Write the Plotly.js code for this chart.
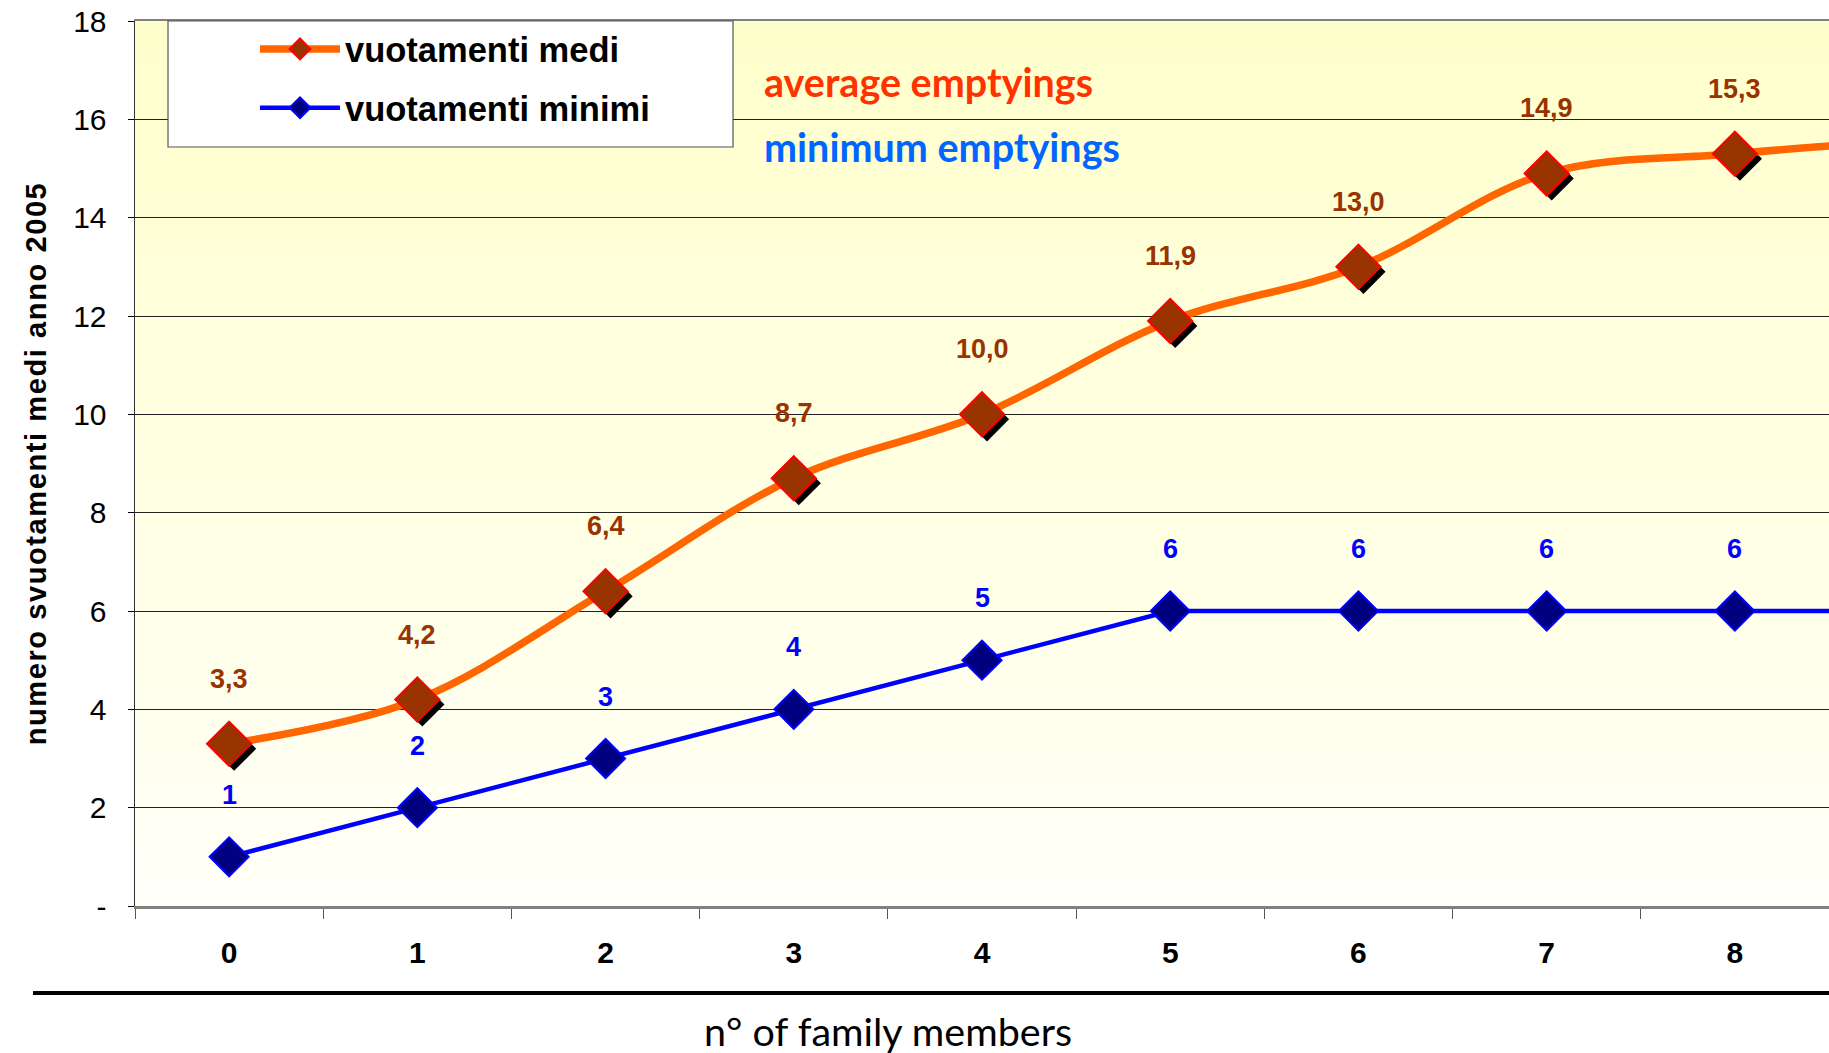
<!DOCTYPE html>
<html><head><meta charset="utf-8">
<script src="https://cdn.plot.ly/plotly-3.0.1.min.js"></script>
<style>
html,body{margin:0;padding:0;background:#fff;}
#chart{width:1829px;height:1053px;}
.ytitle{letter-spacing:1.6px;}
</style></head><body><div id="chart"></div>
<script>
// ---- data ----
const categories = ['0','1','2','3','4','5','6','7','8','9'];
const averageEmptyings = [3.3, 4.2, 6.4, 8.7, 10.0, 11.9, 13.0, 14.9, 15.3, 15.6];
const minimumEmptyings = [1, 2, 3, 4, 5, 6, 6, 6, 6, 6];
const averageLabels = ['3,3','4,2','6,4','8,7','10,0','11,9','13,0','14,9','15,3','15,6'];
const minimumLabels = ['1','2','3','4','5','6','6','6','6','6'];
const yTickVals = [0, 2, 4, 6, 8, 10, 12, 14, 16, 18];
const yTickText = ['-', '2', '4', '6', '8', '10', '12', '14', '16', '18'];
const seriesNames = ['vuotamenti medi', 'vuotamenti minimi'];
const notes = ['average emptyings', 'minimum emptyings'];
const xTitle = 'n° of family members';
const yTitle = 'numero svuotamenti medi anno 2005';

// ---- geometry / style ----
const W = 1829, H = 1053;
const M = {l: 135, r: 0, t: 21, b: 147};
const plotW = W - M.l - M.r, plotH = H - M.t - M.b;
const xRange = [-0.5, 8.5], yRange = [0, 18];
const pxX = plotW / (xRange[1] - xRange[0]);
const pxY = plotH / (yRange[1] - yRange[0]);
const shadow = 5; // px offset of marker shadow
const px2paperX = p => (p - M.l) / plotW;
const px2paperY = p => (H - M.b - p) / plotH;

const arial = 'Liberation Sans, Arial, sans-serif';
const gill = 'Lato, "Open Sans", sans-serif';

const traces = [
  { // minimum emptyings
    x: categories, y: minimumEmptyings, xaxis: 'x', yaxis: 'y',
    type: 'scatter', mode: 'lines+markers', name: seriesNames[1],
    legendrank: 2, legendgroup: 'b',
    line: {color: '#0000FF', width: 4.5},
    marker: {symbol: 'diamond', size: 30, color: '#000080', line: {color: '#0000FF', width: 2}},
    hoverinfo: 'skip'
  },
  { // shadow of average markers
    x: categories, y: averageEmptyings, xaxis: 'x2', yaxis: 'y2',
    type: 'scatter', mode: 'markers', showlegend: false,
    marker: {symbol: 'diamond', size: 34, color: '#000000', line: {width: 0}},
    hoverinfo: 'skip'
  },
  { // average emptyings
    x: categories, y: averageEmptyings, xaxis: 'x3', yaxis: 'y3',
    type: 'scatter', mode: 'lines+markers', name: seriesNames[0],
    legendrank: 1, legendgroup: 'a',
    line: {color: '#FF6600', width: 7.5, shape: 'spline', smoothing: 1},
    marker: {symbol: 'diamond', size: 34, color: '#993300', line: {color: '#FF0000', width: 2}},
    hoverinfo: 'skip'
  }
];

const annotations = [];
const lastVisible = Math.floor(xRange[1]);
categories.forEach((c, i) => {
  if (i > lastVisible) return;
  annotations.push({x: c, y: averageEmptyings[i], xref: 'x', yref: 'y', text: averageLabels[i],
    showarrow: false, yshift: 65,
    font: {family: arial, size: 27, weight: 700, color: '#993300'}});
  annotations.push({x: c, y: minimumEmptyings[i], xref: 'x', yref: 'y', text: minimumLabels[i],
    showarrow: false, yshift: 62,
    font: {family: arial, size: 27, weight: 700, color: '#0000FF'}});
});
annotations.push({xref: 'paper', yref: 'paper', x: px2paperX(762), y: px2paperY(81),
  xanchor: 'left', yanchor: 'middle', text: notes[0], showarrow: false,
  font: {family: gill, size: 39.5, weight: 700, color: '#FF3300'}});
annotations.push({xref: 'paper', yref: 'paper', x: px2paperX(762), y: px2paperY(147),
  xanchor: 'left', yanchor: 'middle', text: notes[1], showarrow: false,
  font: {family: gill, size: 39.5, weight: 700, color: '#0066FF'}});
annotations.push({xref: 'paper', yref: 'paper', x: px2paperX(888), y: px2paperY(1030),
  xanchor: 'center', yanchor: 'middle', text: xTitle, showarrow: false,
  font: {family: gill, size: 39.5, color: '#000000'}});

const grad = "<svg xmlns='http://www.w3.org/2000/svg' width='10' height='100' preserveAspectRatio='none'>" +
  "<defs><linearGradient id='g' x1='0' y1='0' x2='0' y2='1'>" +
  "<stop offset='0' stop-color='#FFFFCC'/><stop offset='1' stop-color='#FFFFF8'/>" +
  "</linearGradient></defs><rect width='10' height='100' fill='url(#g)'/></svg>";

const hidden = {visible: false, showgrid: false, zeroline: false, fixedrange: true};

const layout = {
  width: W, height: H, margin: M,
  paper_bgcolor: '#FFFFFF', plot_bgcolor: 'rgba(0,0,0,0)',
  showlegend: true, hovermode: false,
  images: [{source: 'data:image/svg+xml;charset=utf-8,' + encodeURIComponent(grad),
    xref: 'paper', yref: 'paper', x: 0, y: 1, sizex: 1, sizey: 1,
    xanchor: 'left', yanchor: 'top', sizing: 'stretch', layer: 'below'}],
  xaxis: {
    type: 'category', range: xRange, fixedrange: true, automargin: false,
    showgrid: false, zeroline: false,
    showline: true, linecolor: '#808080', linewidth: 2.5, mirror: true,
    ticks: 'outside', tickson: 'boundaries', ticklen: 10, tickcolor: '#555555', tickwidth: 1,
    tickfont: {family: arial, size: 30, weight: 700, color: '#000000'},
    ticklabelstandoff: 18
  },
  yaxis: {
    range: yRange, fixedrange: true, automargin: false,
    tickvals: yTickVals, ticktext: yTickText,
    showgrid: true, gridcolor: '#222222', gridwidth: 1, zeroline: false,
    showline: true, linecolor: '#333333', linewidth: 1.5,
    ticks: 'outside', ticklen: 6, tickcolor: '#000000',
    tickfont: {family: arial, size: 30, color: '#000000'},
    ticklabelstandoff: 15,
    title: {text: yTitle, standoff: 18, font: {family: arial, size: 29, weight: 700, color: '#000000'}}
  },
  xaxis2: Object.assign({overlaying: 'x', type: 'category',
    range: [xRange[0] - shadow / pxX, xRange[1] - shadow / pxX]}, hidden),
  yaxis2: Object.assign({overlaying: 'y',
    range: [yRange[0] + shadow / pxY, yRange[1] + shadow / pxY]}, hidden),
  xaxis3: Object.assign({overlaying: 'x', type: 'category', range: xRange}, hidden),
  yaxis3: Object.assign({overlaying: 'y', range: yRange}, hidden),
  legend: {
    x: px2paperX(255), y: px2paperY(20), xanchor: 'left', yanchor: 'top',
    bgcolor: 'rgba(0,0,0,0)', borderwidth: 0, tracegroupgap: 11, itemwidth: 80,
    font: {family: arial, size: 34.5, weight: 700, color: '#000000'}
  },
  shapes: [
    {type: 'rect', xref: 'paper', yref: 'paper', layer: 'above',
      x0: px2paperX(168), x1: px2paperX(733), y0: px2paperY(147), y1: px2paperY(21),
      fillcolor: '#FFFFFF', line: {color: '#555555', width: 1.2}},
    {type: 'line', xref: 'paper', yref: 'paper',
      x0: px2paperX(33), x1: 1, y0: px2paperY(993), y1: px2paperY(993),
      line: {color: '#000000', width: 4}}
  ],
  annotations: annotations
};

Plotly.newPlot('chart', traces, layout, {displayModeBar: false, staticPlot: true});
</script></body></html>
